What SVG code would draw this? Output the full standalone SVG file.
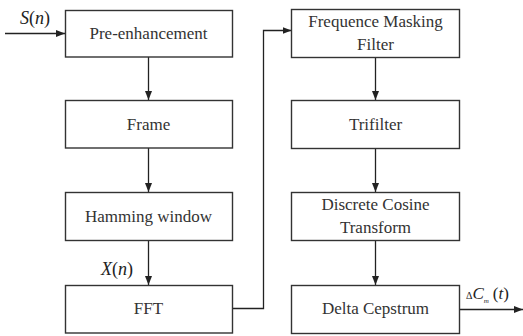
<svg xmlns="http://www.w3.org/2000/svg" width="523" height="336" viewBox="0 0 523 336">
<defs>
<marker id="ah" markerWidth="9" markerHeight="7" refX="9" refY="3.5" orient="auto" markerUnits="userSpaceOnUse">
<path d="M0,0 L9,3.5 L0,7 Z" fill="#222"/>
</marker>
<style>
.box{fill:#fff;stroke:#333;stroke-width:1.4}
.t{font-family:'Liberation Serif','DejaVu Serif',serif;font-size:17px;fill:#333;text-anchor:middle}
.m{font-family:'Liberation Serif','DejaVu Serif',serif;fill:#222;font-style:italic}
.c{fill:none;stroke:#222;stroke-width:1.3}
</style>
</defs>
<rect width="523" height="336" fill="#fff"/>
<g id="connectors">
<line class="c" x1="5" y1="33.5" x2="65" y2="33.5" marker-end="url(#ah)"/>
<line class="c" x1="148.5" y1="57" x2="148.5" y2="100" marker-end="url(#ah)"/>
<line class="c" x1="148.5" y1="148" x2="148.5" y2="192" marker-end="url(#ah)"/>
<line class="c" x1="148.5" y1="241" x2="148.5" y2="285" marker-end="url(#ah)"/>
<polyline class="c" points="232.5,308.5 263.5,308.5 263.5,30.5 291.5,30.5" marker-end="url(#ah)"/>
<line class="c" x1="375.5" y1="57.5" x2="375.5" y2="100" marker-end="url(#ah)"/>
<line class="c" x1="375.5" y1="148.5" x2="375.5" y2="192" marker-end="url(#ah)"/>
<line class="c" x1="375.5" y1="241" x2="375.5" y2="285" marker-end="url(#ah)"/>
<line class="c" x1="459.5" y1="309.5" x2="523" y2="309.5" marker-end="url(#ah)"/>
</g>
<g id="n1"><rect class="box" x="65.5" y="10.5" width="167" height="46.5"/><text class="t" x="148.5" y="38.5">Pre-enhancement</text></g>
<g id="n2"><rect class="box" x="65.5" y="100.5" width="167" height="47.5"/><text class="t" x="148.5" y="130">Frame</text></g>
<g id="n3"><rect class="box" x="65.5" y="192.5" width="167" height="48"/><text class="t" x="148.5" y="221.5">Hamming window</text></g>
<g id="n4"><rect class="box" x="65.5" y="285.5" width="167" height="47.5"/><text class="t" x="148.5" y="314">FFT</text></g>
<g id="n5"><rect class="box" x="291.5" y="9.5" width="168" height="48"/><text class="t" x="375.5" y="27">Frequence Masking</text><text class="t" x="375.5" y="49.5">Filter</text></g>
<g id="n6"><rect class="box" x="291.5" y="100.5" width="168" height="48"/><text class="t" x="375.5" y="129.5">Trifilter</text></g>
<g id="n7"><rect class="box" x="291.5" y="192.5" width="168" height="48"/><text class="t" x="375.5" y="210">Discrete Cosine</text><text class="t" x="375.5" y="232.5">Transform</text></g>
<g id="n8"><rect class="box" x="291.5" y="285.5" width="168" height="48"/><text class="t" x="375.5" y="314">Delta Cepstrum</text></g>
<g id="labels">
<text class="m" x="20" y="24" font-size="18">S<tspan font-style="normal">(</tspan>n<tspan font-style="normal">)</tspan></text>
<text class="m" x="101" y="275" font-size="18">X<tspan font-style="normal">(</tspan>n<tspan font-style="normal">)</tspan></text>
<text class="m" x="466" y="299" font-size="17"><tspan font-style="normal" font-size="10">Δ</tspan>C<tspan font-size="7" dy="4">m</tspan><tspan font-style="normal" dy="-4" dx="4">(</tspan>t<tspan font-style="normal">)</tspan></text>
</g>
</svg>
